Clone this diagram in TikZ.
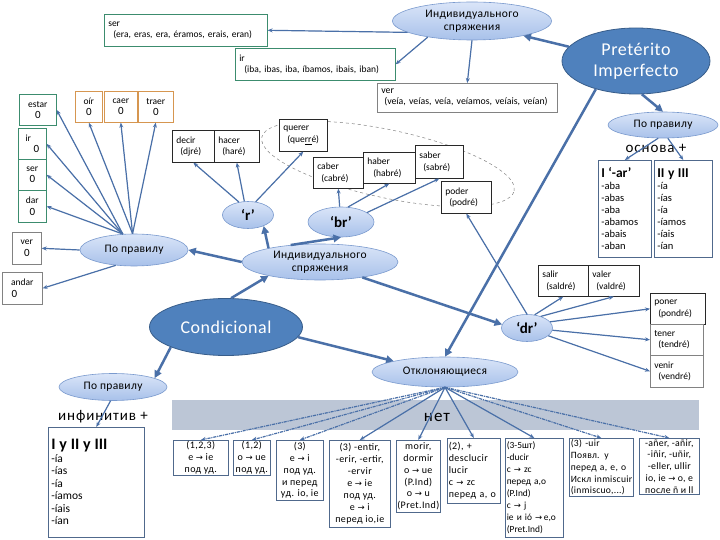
\documentclass[tikz,border=0pt]{standalone}
\usepackage{fontspec}
\setmainfont{Carlito}
\newfontfamily\djv{DejaVu Sans}
\newfontfamily\lsf[LetterSpace=6]{Carlito}
\newfontfamily\lsm[LetterSpace=3]{Carlito}
\newfontfamily\lsb[LetterSpace=4]{Carlito}
\usetikzlibrary{shapes.geometric,arrows.meta}
\definecolor{arrC}{RGB}{74,112,168}
\definecolor{ellT}{RGB}{218,229,248}
\definecolor{ellBo}{RGB}{168,193,234}
\definecolor{ellD}{RGB}{122,154,206}
\definecolor{darkF}{RGB}{79,129,189}
\definecolor{darkB}{RGB}{56,93,138}
\definecolor{grnC}{RGB}{60,140,110}
\definecolor{orgC}{RGB}{214,150,80}
\definecolor{gryC}{RGB}{130,130,130}
\definecolor{blkC}{RGB}{40,40,40}
\definecolor{botC}{RGB}{80,105,140}
\definecolor{bandC}{RGB}{188,198,214}
\newcommand\ra{{\djv\fontsize{8.5}{9}\selectfont →}}
\newcommand\zr{{\fontsize{11}{12}\selectfont 0}}
\tikzset{
  lell/.style={ellipse, draw=ellD, line width=0.6pt, top color=ellT, bottom color=ellBo, inner sep=0pt, align=center, font=\lsm\fontsize{11.5}{13.5}\selectfont},
  dell/.style={ellipse, draw=darkB, line width=0.8pt, fill=darkF, text=white, inner sep=0pt, align=center, font=\lsm\fontsize{18}{21}\selectfont},
  bx/.style={draw=#1, rectangle, line width=0.6pt, fill=white, inner xsep=4pt, inner ysep=1pt, anchor=north west, align=left, font=\fontsize{9.5}{11.5}\selectfont},
  cbx/.style={draw=#1, rectangle, line width=0.6pt, fill=white, inner xsep=2pt, inner ysep=1pt, anchor=north west, align=center, font=\fontsize{9.5}{11.5}\selectfont},
  bb/.style={draw=botC, rectangle, line width=0.6pt, fill=white, inner xsep=2pt, inner ysep=1pt, anchor=north west, font=\lsb\fontsize{10}{11.9}\selectfont},
  tarr/.style={-{Triangle[length=7.5pt,width=7.5pt]}, line width=2.5pt, draw=arrC, fill=arrC},
  narr/.style={-{Stealth[length=5pt,width=4pt]}, line width=1.2pt, draw=arrC, fill=arrC},
  dsh/.style={narr, dash pattern=on 3pt off 1pt on 1pt off 1pt},
  rlab/.style={lell, font=\fontsize{15}{17}\selectfont\bfseries},
}
\begin{document}
\begin{tikzpicture}[x=1pt,y=-1pt]
\useasboundingbox (0,0) rectangle (720,540);
\fill[white] (0,0) rectangle (720,540);

% band
\node[draw=none, fill=bandC, minimum width=527pt, minimum height=30pt, anchor=north west, inner sep=0pt] (band) at (172,400) {};
\node[font=\lsf\fontsize{17}{19}\selectfont, inner sep=0pt] (net) at (437,417) {нет};

% top area
\node[bx=grnC, text width=155pt, minimum height=32pt] (serb) at (104,14) {ser\\\hspace*{5pt}(era, eras, era, éramos, erais, eran)};
\node[bx=grnC, text width=152pt, minimum height=32pt] (irb) at (235,48) {ir\\\hspace*{5pt}(iba, ibas, iba, íbamos, ibais, iban)};
\node[bx=gryC, text width=172pt, minimum height=29pt, font=\fontsize{9.8}{11}\selectfont] (verb) at (377,83) {ver\\\hspace*{3pt}(veía, veías, veía, veíamos, veíais, veían)};
\node[lell, minimum width=159pt, minimum height=38pt] (top) at (472,21) {Индивидуального\\спряжения};
\node[dell, minimum width=148pt, minimum height=66pt] (pret) at (636,61) {Pretérito\\Imperfecto};
\node[lell, minimum width=110pt, minimum height=26pt] (pr) at (663,125) {По правилу};
\node[font=\lsf\fontsize{15}{17}\selectfont, inner sep=0pt] (osn) at (656,148) {основа +};
\node[bx=botC, text width=47pt, minimum height=97pt, inner xsep=3pt, font=\fontsize{10.5}{12}\selectfont] (Ib) at (598,160) {{\fontsize{13.5}{14}\selectfont\bfseries I ‘-ar’}\\-aba\\-abas\\-aba\\-abamos\\-abais\\-aban};
\node[bx=botC, text width=52pt, minimum height=97pt, inner xsep=3pt, font=\fontsize{10.5}{12}\selectfont] (IIb) at (654,160) {{\fontsize{13.5}{14}\selectfont\bfseries II y III}\\-ía\\-ías\\-ía\\-íamos\\-íais\\-ían};

% left boxes
\node[cbx=grnC, minimum width=37pt, minimum height=31pt] (estar) at (19,94) {estar\\\zr};
\node[cbx=grnC, minimum width=28pt, minimum height=31pt] (ir0) at (18,128) {ir\hspace*{8pt}\\\hspace*{8pt}\zr};
\node[cbx=grnC, minimum width=28pt, minimum height=31pt] (ser0) at (18,159) {ser\\\zr};
\node[cbx=grnC, minimum width=28pt, minimum height=32pt] (dar0) at (18,190) {dar\\\zr};
\node[cbx=gryC, minimum width=29pt, minimum height=32pt] (ver0) at (12,232) {ver\\\zr};
\node[cbx=gryC, minimum width=40pt, minimum height=32pt] (andar) at (2,272) {andar\\\zr\hspace*{16pt}};
\node[cbx=orgC, minimum width=27pt, minimum height=31pt] (oir) at (75,91) {oír\\\zr};
\node[cbx=orgC, minimum width=33pt, minimum height=31pt] (caer) at (104,91) {caer\\\zr};
\node[cbx=orgC, minimum width=35pt, minimum height=31pt] (traer) at (138,91) {traer\\\zr};
\node[lell, minimum width=108pt, minimum height=32pt] (ppl) at (134,250) {По правилу};

% r / br group
\node[draw=gryC, dashed, line width=0.5pt, ellipse, minimum width=258pt, minimum height=68pt, rotate=-12, inner sep=0pt] (grp) at (388,164) {};
\node[bx=blkC, text width=34pt, minimum height=32pt] (decir) at (172,130) {decir\\\hspace*{4pt}(djré)};
\node[bx=blkC, text width=37pt, minimum height=32pt] (hacer) at (214,130) {hacer\\\hspace*{4pt}(haré)};
\node[bx=blkC, text width=40pt, minimum height=32pt] (querer) at (279,119) {querer\\\hspace*{4pt}(que\underline{rr}é)};
\node[bx=blkC, text width=42pt, minimum height=31pt] (caber) at (313,157) {caber\\\hspace*{4pt}(cabré)};
\node[bx=blkC, text width=44pt, minimum height=31pt] (haber) at (363,152) {haber\\\hspace*{6pt}(habré)};
\node[bx=blkC, text width=40pt, minimum height=33pt] (saber) at (415,145) {saber\\\hspace*{4pt}(sabré)};
\node[bx=blkC, text width=42pt, minimum height=32pt] (poder) at (441,181) {poder\\\hspace*{4pt}(podré)};
\node[rlab, minimum width=51pt, minimum height=27pt] (r) at (248,215) {‘r’};
\node[rlab, minimum width=66pt, minimum height=30pt] (br) at (341,222) {‘br’};
\node[lell, minimum width=156pt, minimum height=36pt] (mid) at (320,262) {Индивидуального\\спряжения};

% condicional
\node[dell, minimum width=153pt, minimum height=57pt] (cond) at (226,327) {Condicional};
\node[rlab, minimum width=51pt, minimum height=27pt] (dr) at (527,328) {‘dr’};
\node[bx=blkC, text width=42pt, minimum height=31pt] (salir) at (538,265) {salir\\\hspace*{4pt}(saldré)};
\node[bx=blkC, text width=43pt, minimum height=31pt] (valer) at (588,265) {valer\\\hspace*{4pt}(valdré)};
\node[bx=blkC, text width=47pt, minimum height=31pt] (poner) at (650,293) {poner\\\hspace*{4pt}(pondré)};
\node[bx=gryC, text width=45pt, minimum height=31pt] (tener) at (650,324) {tener\\\hspace*{4pt}(tendré)};
\node[bx=gryC, text width=45pt, minimum height=32pt] (venir) at (650,355) {venir\\\hspace*{4pt}(vendré)};
\node[lell, minimum width=146pt, minimum height=30pt] (otk) at (445,372) {Отклоняющиеся};

% bottom left
\node[lell, minimum width=108pt, minimum height=27pt] (ppl2) at (113,387) {По правилу};
\node[font=\lsf\fontsize{15}{17}\selectfont, inner sep=0pt] (inf) at (103,417) {инфинитив +};
\node[bx=botC, text width=90pt, minimum height=110pt, inner xsep=3pt, font=\fontsize{11.5}{12.5}\selectfont] (big) at (48,427) {{\fontsize{16}{17}\selectfont\bfseries I y II y III}\\-ía\\-ías\\-ía\\-íamos\\-íais\\-ían};

% bottom boxes
\node[bb, align=center, minimum width=55pt, minimum height=35pt] (b1) at (173,440) {(1,2,3)\\e \ra{} ie\\под уд.};
\node[bb, align=center, minimum width=37pt, minimum height=35pt, inner xsep=0.5pt] (b2) at (233,440) {(1,2)\\o \ra{} ue\\под уд.};
\node[bb, align=center, minimum width=47pt, minimum height=60pt] (b3) at (276,440) {(3)\\e \ra{} i\\под уд.\\и перед\\уд. io, ie};
\node[bb, align=center, minimum width=61pt, minimum height=87pt, inner xsep=1pt] (b4) at (329,440) {(3) -entir,\\-erir, -ertir,\\-ervir\\e \ra{} ie\\под уд.\\e \ra{} i\\перед io,ie};
\node[bb, align=center, minimum width=44pt, minimum height=72pt, inner xsep=0.5pt] (b5) at (396,440) {morir,\\dormir\\o \ra{} ue\\(P.Ind)\\o \ra{} u\\(Pret.Ind)};
\node[bb, align=left, text width=50pt, minimum height=65pt, inner xsep=1.5pt] (b6) at (447,438) {(2), +\\desclucir\\lucir\\c \ra{} zc\\перед a, o};
\node[bb, align=left, text width=55pt, minimum height=99pt, inner xsep=1.5pt, font=\fontsize{9.4}{11.9}\selectfont] (b7) at (505,438) {(3-5шт)\\-ducir\\c \ra{} zc\\перед a,o\\(P.Ind)\\c \ra{} j\\ie и ió \ra{}\,e,o\\(Pret.Ind)};
\node[bb, align=left, text width=61pt, minimum height=54pt, inner xsep=1.5pt, font=\lsm\fontsize{9.6}{11.9}\selectfont] (b8) at (569,438) {(3) -uir\\Появл. y\\перед a, e, o\\Искл inmiscuir\\(inmiscuo,...)};
\node[bb, align=center, minimum width=60pt, minimum height=45pt, inner xsep=0.5pt, font=\lsm\fontsize{9.8}{11.9}\selectfont] (b9) at (639,438) {-añer, -añir,\\-iñir, -uñir,\\-eller, ullir\\io, ie \ra{} o, e\\после ñ и ll};

% connectors: top
\draw[narr] (top.190) -- (serb.east);
\draw[narr] (top.200) -- (irb.east);
\draw[narr] (top.south) -- (verb.north);
\draw[tarr] (pret.168) -- (top.-16);
\draw[tarr] (pret.-80) -- (pr.north);
\draw[tarr] (pret.215) -- (otk.north);
\draw[narr] (pr.250) -- (Ib.north);
\draw[narr] (pr.290) -- (IIb.north);

% left fan
\draw[narr] (ppl.125) -- (estar.east);
\draw[narr] (ppl.125) -- (ir0.east);
\draw[narr] (ppl.125) -- (ser0.east);
\draw[narr] (ppl.125) -- (dar0.east);
\draw[narr] (ppl.west) -- (ver0.east);
\draw[narr] (ppl.220) -- (andar.east);
\draw[narr] (ppl.95) -- (oir.south);
\draw[narr] (ppl.95) -- (caer.south);
\draw[narr] (ppl.95) -- (traer.south);

% r / br
\draw[narr] (r.125) -- (decir.south);
\draw[narr] (r.105) -- (hacer.south);
\draw[narr] (r.60) -- (querer.south);
\draw[narr] (br.95) -- (caber.south);
\draw[narr] (br.65) -- (haber.south);
\draw[narr] (br.20) -- (saber.south);
\draw[tarr] (mid.165) -- (r.-35);
\draw[tarr] (mid.150) -- (br.south);
\draw[tarr] (mid.west) -- (ppl.east);
\draw[tarr] (mid.-20) -- (dr.172);

% condicional
\draw[tarr] (cond.80) -- (mid.195);
\draw[tarr] (cond.200) -- (ppl2.12);
\draw[tarr] (cond.-8) -- (otk.168);
\draw[narr] (dr.north) -- (poder.south);
\draw[narr] (dr.60) -- (salir.south);
\draw[narr] (dr.40) -- (valer.south);
\draw[narr] (dr.15) -- (poner.west);
\draw[narr] (dr.-5) -- (tener.west);
\draw[narr] (dr.-20) -- (venir.west);

% bottom
\draw[narr] (ppl2.-100) -- (big.north);
\draw[dsh] (otk.south) -- (b1.north);
\draw[dsh] (otk.south) -- (b2.north);
\draw[dsh] (otk.south) -- (b3.north);
\draw[narr] (otk.south) -- (b4.north);
\draw[narr] (otk.south) -- (b5.north);
\draw[narr] (otk.south) -- (b6.north);
\draw[narr] (otk.south) -- (b7.north);
\draw[dsh] (otk.south) -- (b8.north);
\draw[dsh] (otk.south) -- (b9.north);
\end{tikzpicture}
\end{document}
